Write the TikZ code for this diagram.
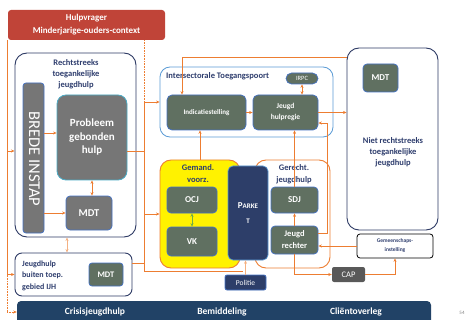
\documentclass[tikz,border=0pt]{standalone}
\usepackage{fontspec}
\setmainfont{Carlito}
\usetikzlibrary{arrows.meta}
\definecolor{hvred}{RGB}{192,68,56}
\definecolor{navyt}{RGB}{47,62,110}
\definecolor{navyb}{RGB}{45,58,100}
\definecolor{gray1}{RGB}{118,118,118}
\definecolor{gg}{RGB}{96,112,97}
\definecolor{bb}{RGB}{68,114,196}
\definecolor{lb}{RGB}{91,155,213}
\definecolor{cy}{RGB}{75,172,198}
\definecolor{org}{RGB}{237,125,49}
\definecolor{lorg}{RGB}{244,177,131}
\definecolor{pk}{RGB}{45,62,105}
\definecolor{barc}{RGB}{33,66,102}
\definecolor{capc}{RGB}{89,89,89}
\definecolor{grn}{RGB}{112,173,71}
\begin{document}
\begin{tikzpicture}[x=1pt,y=-1pt,
  box/.style={rectangle, inner sep=0pt, align=center, text=white},
  gbox/.style={box, fill=gg, draw=bb, line width=0.7pt, rounded corners=4pt, font=\bfseries\fontsize{9}{11}\selectfont},
  cont/.style={rectangle, inner sep=0pt, draw=navyb, line width=0.9pt, rounded corners=12pt, fill=white},
  ttl/.style={align=center, text=navyt, inner sep=0pt, font=\bfseries\fontsize{8.5}{11}\selectfont},
  ol/.style={draw=org, line width=0.6pt},
  tip/.tip={Stealth[length=3.5pt,width=3pt]},
  ar/.style={ol, -tip},
  dar/.style={ol, tip-tip}]
\useasboundingbox (0,0) rectangle (470,320);

% top red box
\node[box, fill=hvred, rounded corners=3pt, minimum width=157, minimum height=30,
  font=\bfseries\fontsize{9}{13}\selectfont] (hv) at (86.5,25) {Hulpvrager\\Minderjarige-ouders-context};

% Rechtstreeks toegankelijke jeugdhulp
\node[cont, minimum width=121, minimum height=184] (rt) at (75.5,145) {};
\node[ttl] (rtt) at (76,74) {Rechtstreeks\\toegankelijke\\jeugdhulp};
\node[box, fill=gray1, draw=bb, line width=0.7pt, rounded corners=3pt, minimum width=21, minimum height=150] (brede) at (33.5,158) {};
\node[rotate=-90, text=white, inner sep=0pt, font=\fontsize{16.5}{17}\selectfont] (bredet) at (34.5,159) {BREDE INSTAP};
\node[box, fill=gray1, draw=cy, line width=0.8pt, rounded corners=9pt, minimum width=70, minimum height=85,
  font=\bfseries\fontsize{11}{13.5}\selectfont] (pgh) at (92,137.5) {Probleem\\gebonden\\hulp};
\node[box, fill=gray1, draw=bb, line width=0.7pt, rounded corners=4pt, minimum width=46, minimum height=34,
  font=\bfseries\fontsize{10.5}{12}\selectfont] (mdt1) at (89,213) {MDT};

% Jeugdhulp buiten
\node[cont, rounded corners=7pt, minimum width=117, minimum height=43] (jb) at (73.5,274.5) {};
\node[ttl, align=left, anchor=west, font=\bfseries\fontsize{8}{11.5}\selectfont] (jbt) at (22,275.5) {Jeugdhulp\\buiten toep.\\gebied IJH};
\node[gbox, minimum width=34, minimum height=23, rounded corners=3pt, font=\bfseries\fontsize{8.5}{10}\selectfont] (mdt2) at (106,274.5) {MDT};

% Intersectorale toegangspoort
\node[cont, draw=lb, line width=0.8pt, rounded corners=10pt, minimum width=173, minimum height=70] (its) at (246.5,102) {};
\node[ttl, anchor=west] (itst) at (166,76.5) {Intersectorale Toegangspoort};
\node[gbox, rounded corners=5.5pt, minimum width=32, minimum height=11, font=\fontsize{6.5}{7}\selectfont] (irpc) at (302,78.5) {IRPC};
\node[gbox, rounded corners=5pt, minimum width=79, minimum height=35, font=\bfseries\fontsize{7}{9}\selectfont] (ind) at (206.5,112.5) {Indicatiestelling};
\node[gbox, rounded corners=5pt, minimum width=65, minimum height=35, font=\bfseries\fontsize{7.5}{11}\selectfont] (jhr) at (285.5,112.5) {Jeugd\\hulpregie};

% Niet rechtstreeks
\node[cont, minimum width=91, minimum height=182] (nrt) at (392.5,139) {};
\node[gbox, minimum width=35, minimum height=28, font=\bfseries\fontsize{9}{10}\selectfont] (mdt3) at (380.5,78) {MDT};
\node[ttl] (nrtt) at (393,152) {Niet rechtstreeks\\toegankelijke\\jeugdhulp};

% Gemeenschapsinstelling and CAP
\node[box, draw=black, line width=0.8pt, rounded corners=3pt, fill=white, minimum width=76, minimum height=24,
  text=navyt, font=\bfseries\fontsize{5.5}{9}\selectfont] (gem) at (395,246) {Gemeenschaps-\\instelling};
\node[box, fill=capc, rounded corners=2pt, minimum width=33, minimum height=15,
  font=\fontsize{8.5}{10}\selectfont] (cap) at (348.5,274.5) {CAP};

% Gerechtelijke jeugdhulp
\node[cont, draw=org, rounded corners=11pt, minimum width=75, minimum height=108] (gj) at (292.5,214) {};
\node[ttl, font=\bfseries\fontsize{8.5}{12}\selectfont] (gjt) at (294,174) {Gerecht.\\jeugdhulp};
\node[gbox, minimum width=47, minimum height=26] (sdj) at (294.5,200) {SDJ};
\node[gbox, minimum width=47, minimum height=28, font=\bfseries\fontsize{8.5}{12}\selectfont] (jr) at (294.5,240) {Jeugd\\rechter};

% Gemandateerde voorzieningen
\node[cont, draw=org, fill=yellow, rounded corners=11pt, minimum width=80, minimum height=108] (gv) at (200,214) {};
\node[ttl, font=\bfseries\fontsize{8.5}{12.5}\selectfont] (gvt) at (198,173.5) {Gemand.\\voorz.};
\node[gbox, minimum width=50, minimum height=26] (ocj) at (192,200) {OCJ};
\node[gbox, minimum width=50, minimum height=29] (vk) at (192,241.5) {VK};

% Parket and Politie
\node[box, fill=pk, draw=lb, line width=0.7pt, rounded corners=5pt, minimum width=40, minimum height=94,
  font=\bfseries\fontsize{9}{15}\selectfont] (parket) at (248,213) {P{\fontsize{7}{8}\selectfont ARKE}\\{\fontsize{7}{8}\selectfont T}};
\node[box, fill=pk, draw=bb, line width=0.7pt, rounded corners=2pt, minimum width=41, minimum height=15,
  font=\fontsize{7.5}{9}\selectfont] (pol) at (245.5,282.5) {Politie};

% bottom bar
\node[box, fill=barc, rounded corners=4pt, minimum width=414, minimum height=24] (bar) at (224,313) {};
\node[text=white, inner sep=0pt, font=\bfseries\fontsize{9.5}{11}\selectfont] (b1) at (95,312) {Crisisjeugdhulp};
\node[text=white, inner sep=0pt, font=\bfseries\fontsize{9.5}{11}\selectfont] (b2) at (222,312) {Bemiddeling};
\node[text=white, inner sep=0pt, font=\bfseries\fontsize{9.5}{11}\selectfont] (b3) at (356,312) {Cliëntoverleg};
\node[text=gray, inner sep=0pt, font=\fontsize{5}{6}\selectfont] (pg) at (462,313) {54};

% ---- connectors ----
\coordinate (lx) at (7,40);
\draw[ol] (lx) -- (lx |- jb.west);
\draw[ar] (lx |- 0,151) -- (rt.west |- 0,151);
\draw[ar] (lx |- jb.west) -- (jb.west);
\draw[ol, densely dotted] (lx |- jb.west) -- (lx |- 0,312);
\draw[ol, densely dotted, -tip] (lx |- 0,312) -- (bar.west |- 0,312);

\draw[ol, densely dotted] (hv.south -| 144,0) -- (144,102);
\coordinate (vx) at (144,102);
\draw[ar] (vx) -- (its.west);
\draw[ol] (vx) -- (144,271) -- (243,271);
\draw[ol] (pgh.east |- 0,151) -- (vx |- 0,151);
\draw[ol] (jb.east |- 0,263) -- (vx |- 0,263);
\draw[ar] (vx |- gv.west) -- (gv.west);

\draw[ar] (brede.east |- 0,133) -- (pgh.west |- 0,133);
\draw[ar] (brede.east |- mdt1.west) -- (mdt1.west);
\draw[dar] (pgh.south) -- (pgh.south |- mdt1.north);
\draw[ol, draw=lorg, tip-tip] (rt.south -| 67,0) -- (jb.north -| 67,0);

\draw[ar] (nrt.west |- 0,57) -| (ind.north -| 182,0);
\draw[ar] (ind.east) -- (jhr.west);
\draw[dar] (irpc.south) -- (irpc.south |- jhr.north);
\draw[ar] (jhr.east) -- (nrt.west |- jhr.east);
\draw[ar] (gv.north) -- (gv.north |- ind.south);
\draw[ar] (sdj.north) -- (sdj.north |- jhr.south);
\draw[ar] (jr.east |- 0,233) -- (327,233) -- (327,123) -- (jhr.east |- 0,123);
\draw[ar] (jr.north) -- (sdj.south);
\draw[ar] (gem.west) -- (jr.east |- gem.west);
\draw[ar] (jr.south) |- (cap.west);
\draw[ar] (cap.east) -| (gem.south);
\draw[ol, draw=lorg, -tip] (pol.north) -- (pol.north |- parket.south);
\draw[draw=grn, line width=0.6pt, tip-tip] (ocj.south) -- (vk.north);
\end{tikzpicture}
\end{document}
